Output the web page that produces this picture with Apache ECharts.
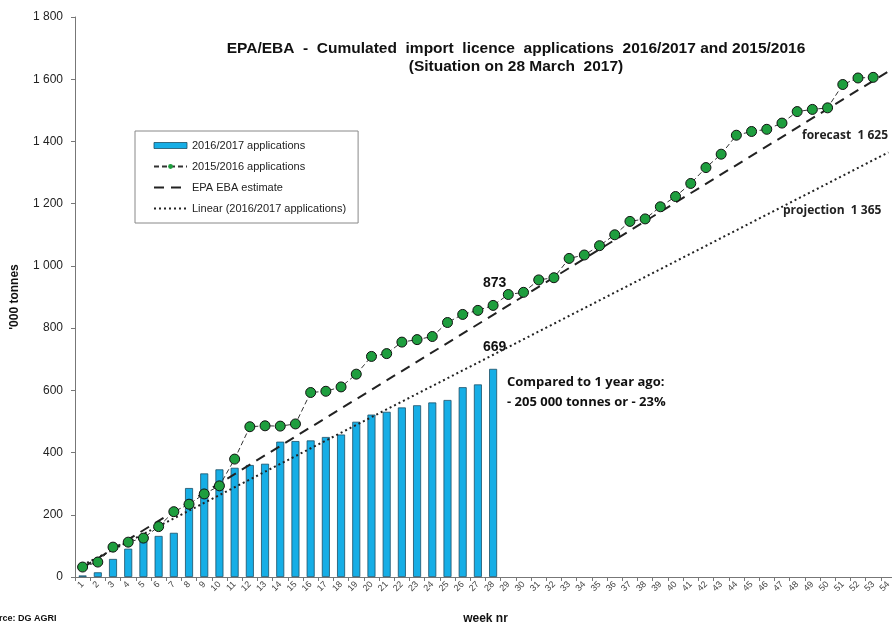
<!DOCTYPE html>
<html>
<head>
<meta charset="utf-8">
<script src="https://cdn.jsdelivr.net/npm/echarts@6/dist/echarts.min.js"></script>
<style>
  html, body { margin: 0; padding: 0; background: #fff; }
  #chart { width: 892px; height: 624px; }
</style>
</head>
<body>
<div id="chart"></div>
<script>
// weeks 1..54
const weeks = []
for (let w = 1; w <= 54; w++) weeks.push(String(w))

// cumulated applications 2016/2017 ('000 t), weeks 1-28
const apps1617 = [5, 15, 58, 91, 120, 132, 142, 286, 333, 346, 351, 360, 364, 435, 437, 439,
    450, 458, 499, 522, 531, 545, 552, 561, 569, 610, 619, 669]

// cumulated applications 2015/2016 ('000 t), weeks 1-53
const apps1516 = [32, 48, 96, 112, 125, 162, 210, 234, 267, 293, 379, 483, 486, 485, 492, 593,
    597, 611, 652, 709, 718, 755, 763, 773, 818, 844, 857, 873, 908, 915, 955, 962,
    1024, 1035, 1065, 1100, 1143, 1151, 1190, 1223, 1265, 1316, 1359, 1420, 1432, 1439, 1459,
    1496, 1503, 1508, 1583, 1604, 1606]

// straight lines: [week index, value] at both ends
const estimateLine = [[0, 30], [53, 1625]]
const linearLine = [[0, 38], [53, 1365]]

const yTicks = [0, 200, 400, 600, 800, 1000, 1200, 1400, 1600, 1800]

const chart = echarts.init(document.getElementById('chart'), null, {renderer: 'canvas'})

const fmt = v => String(v).replace(/\B(?=(\d{3})+(?!\d))/g, ' ')

const noDot = {color: 'rgba(0,0,0,0)', borderWidth: 0}

const opt = {
    animation: false,
    textStyle: {fontFamily: 'Liberation Sans, Arial, sans-serif'},
    title: {
        text: 'EPA/EBA  -  Cumulated  import  licence  applications  2016/2017 and 2015/2016\n(Situation on 28 March  2017)',
        left: 511,
        top: 35,
        textAlign: 'center',
        textStyle: {fontSize: 15.5, fontWeight: 'bold', color: '#111', lineHeight: 18}
    },
    legend: {
        orient: 'vertical',
        left: 135,
        top: 131,
        padding: [9, 12, 9, 18],
        itemGap: 10,
        itemWidth: 33,
        itemHeight: 6,
        borderColor: '#888',
        borderWidth: 1,
        textStyle: {fontSize: 11, color: '#222'},
        data: [
            {name: '2016/2017 applications', icon: 'rect', itemStyle: {borderWidth: 0.8}},
            {name: '2015/2016 applications', itemStyle: {borderWidth: 0}},
            {name: 'EPA EBA estimate', itemStyle: noDot},
            {name: 'Linear (2016/2017 applications)', itemStyle: noDot}
        ]
    },
    grid: {left: 75, top: 17, width: 821, height: 560, containLabel: false, outerBoundsMode: 'none'},
    xAxis: {
        type: 'category',
        data: weeks,
        name: 'week nr',
        nameLocation: 'middle',
        nameGap: 36,
        nameTextStyle: {fontWeight: 'bold', fontSize: 12, color: '#111'},
        axisLine: {lineStyle: {color: '#777'}},
        axisTick: {show: true, lineStyle: {color: '#777'}, length: 4},
        axisLabel: {rotate: 45, fontSize: 9, color: '#444', interval: 0, margin: 6}
    },
    yAxis: {
        type: 'value',
        min: 0,
        max: 1800,
        interval: 200,
        name: "'000 tonnes",
        nameLocation: 'middle',
        nameGap: 54,
        nameRotate: 90,
        nameTextStyle: {fontWeight: 'bold', fontSize: 12, color: '#111'},
        axisLine: {show: true, lineStyle: {color: '#777'}},
        axisTick: {show: true, lineStyle: {color: '#777'}, length: 4},
        splitLine: {show: false},
        axisLabel: {fontSize: 12, color: '#222', margin: 12, formatter: v => yTicks.includes(v) ? fmt(v) : ''}
    },
    series: [
        {
            name: '2016/2017 applications',
            type: 'bar',
            data: apps1617,
            barWidth: 8,
            itemStyle: {color: '#16aee6', borderColor: '#1d4f66', borderWidth: 0.8}
        },
        {
            name: 'EPA EBA estimate',
            type: 'line',
            data: estimateLine,
            symbol: 'none',
            itemStyle: {color: '#222'},
            lineStyle: {color: '#222', width: 2, type: [10, 7]},
            z: 3
        },
        {
            name: 'Linear (2016/2017 applications)',
            type: 'line',
            data: linearLine,
            symbol: 'none',
            itemStyle: {color: '#222'},
            lineStyle: {color: '#222', width: 2, type: [2, 3]},
            z: 3
        },
        {
            name: '2015/2016 applications',
            type: 'line',
            data: apps1516,
            symbol: 'circle',
            symbolSize: 10,
            itemStyle: {color: '#1e9e3e', borderColor: '#111', borderWidth: 1},
            lineStyle: {color: '#333', width: 1, type: [5, 3]},
            z: 4
        }
    ],
    graphic: [
        {type: 'text', left: 483, top: 276, style: {text: '873', font: 'bold 14px "Liberation Sans", Arial', fill: '#111'}},
        {type: 'text', left: 483, top: 340, style: {text: '669', font: 'bold 14px "Liberation Sans", Arial', fill: '#111'}},
        {type: 'text', left: 507, top: 372, style: {text: 'Compared to 1 year ago:\n- 205 000 tonnes or - 23%', font: 'bold 13px "Open Sans", "Liberation Sans", Arial', fill: '#111', lineHeight: 20}},
        {type: 'text', left: 802, top: 130, style: {text: 'forecast  1 625', font: 'bold 12px "Open Sans", "Liberation Sans", Arial', fill: '#222'}},
        {type: 'text', left: 783, top: 205, style: {text: 'projection  1 365', font: 'bold 12px "Open Sans", "Liberation Sans", Arial', fill: '#222'}},
        {type: 'text', left: -18, top: 614, style: {text: 'Source: DG AGRI', font: 'bold 9px "Liberation Sans", Arial', fill: '#111'}}
    ]
}

chart.setOption(opt)
</script>
</body>
</html>
